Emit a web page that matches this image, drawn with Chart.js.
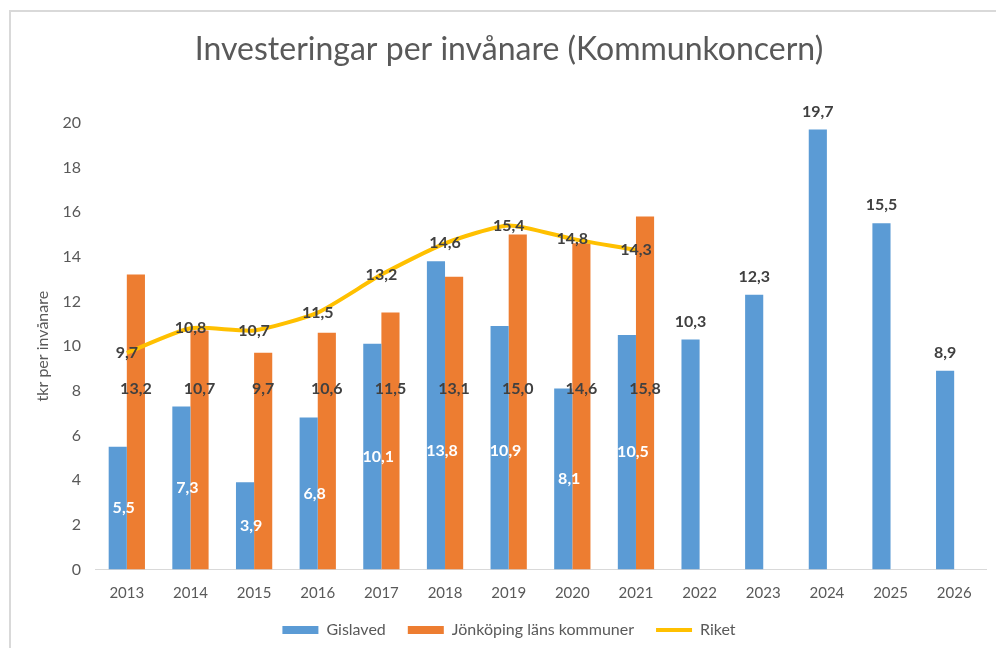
<!DOCTYPE html>
<html lang="sv">
<head>
<meta charset="utf-8">
<title>Investeringar per invånare</title>
<script src="https://cdn.jsdelivr.net/npm/chart.js@4/dist/chart.umd.min.js"></script>
<style>
  html, body { margin: 0; padding: 0; background: #fff; overflow: hidden; }
  #ram {
    position: absolute; left: 9px; top: 10px;
    width: 1100px; height: 800px;
    border-left: 2px solid #d9d9d9; border-top: 2px solid #d9d9d9;
  }
  #wrap { position: absolute; left: 0; top: 0; width: 996px; height: 648px; }
</style>
</head>
<body>
<div id="ram"></div>
<div id="wrap"><canvas id="chart-investeringar"></canvas></div>
<script>
// ============================================================
// DATA
// ============================================================

const ar = ['2013', '2014', '2015', '2016', '2017', '2018', '2019',
            '2020', '2021', '2022', '2023', '2024', '2025', '2026'];

const gislaved = [5.5, 7.3, 3.9, 6.8, 10.1, 13.8, 10.9, 8.1, 10.5, 10.3, 12.3, 19.7, 15.5, 8.9];
const jonkoping = [13.2, 10.7, 9.7, 10.6, 11.5, 13.1, 15.0, 14.6, 15.8, null, null, null, null, null];
const riket = [9.7, 10.8, 10.7, 11.5, 13.2, 14.6, 15.4, 14.8, 14.3, null, null, null, null, null];

const yTicks = [0, 2, 4, 6, 8, 10, 12, 14, 16, 18, 20];

const FONT = "'Lato', 'Open Sans', sans-serif";
const GRA = '#595959';
const MORK = '#404040';

// ============================================================
// ETIKETTER (egen plugin, ingen datalabels finns lokalt)
// ============================================================

/**
 * Skriver värdena med decimalkomma på staplar och linje.
 */
const etiketter = {
  id: 'etiketter',
  afterDatasetsDraw(chart) {
    const ctx = chart.ctx;
    const y = chart.scales.y;
    ctx.save();
    ctx.font = 'bold 16px ' + FONT;
    ctx.textAlign = 'center';
    ctx.textBaseline = 'middle';

    chart.data.datasets.forEach((ds, i) => {
      const meta = chart.getDatasetMeta(i);
      meta.data.forEach((el, j) => {
        const v = ds.data[j];
        if (v == null) return;
        const txt = v.toFixed(1).replace('.', ',');
        let px = el.x;
        let py;
        if (ds.label === 'Gislaved') {
          if (jonkoping[j] != null) {
            // inne i stapeln, lite åt höger som i Excel
            ctx.fillStyle = '#ffffff';
            px = el.x + 6;
            py = y.getPixelForValue(Math.min(v / 2, 5.3));
          } else {
            // ovanför stapeln
            ctx.fillStyle = MORK;
            py = el.y - 18;
          }
        } else if (ds.label === 'Jönköping läns kommuner') {
          ctx.fillStyle = MORK;
          py = y.getPixelForValue(8.1);
        } else {
          ctx.fillStyle = MORK;
          py = el.y;
        }
        ctx.fillText(txt, px, py);
      });
    });
    ctx.restore();
  }
};

// ============================================================
// DIAGRAM
// ============================================================

new Chart(document.getElementById('chart-investeringar'), {
  type: 'bar',
  data: {
    labels: ar,
    datasets: [
      {
        label: 'Gislaved',
        data: gislaved,
        backgroundColor: '#5B9BD5',
        borderWidth: 0,
        pointStyle: 'rect',
        order: 1
      },
      {
        label: 'Jönköping läns kommuner',
        data: jonkoping,
        backgroundColor: '#ED7D31',
        borderWidth: 0,
        pointStyle: 'rect',
        order: 1
      },
      {
        type: 'line',
        label: 'Riket',
        data: riket,
        borderColor: '#FFC000',
        backgroundColor: '#FFC000',
        borderWidth: 4,
        pointRadius: 0,
        pointStyle: 'line',
        tension: 0.2,
        spanGaps: false,
        order: 0
      }
    ]
  },
  options: {
    responsive: true,
    maintainAspectRatio: false,
    animation: false,
    layout: { padding: { left: 32, right: 10, top: 0, bottom: 0 } },
    datasets: {
      bar: { categoryPercentage: 0.57, barPercentage: 1.0 }
    },
    plugins: {
      title: {
        display: true,
        text: 'Investeringar per invånare (Kommunkoncern)',
        color: GRA,
        font: { family: FONT, size: 32, weight: 'normal' },
        padding: { top: 30, bottom: 54.3 }
      },
      legend: {
        position: 'bottom',
        labels: {
          color: GRA,
          font: { family: FONT, size: 16 },
          usePointStyle: true,
          pointStyleWidth: 36,
          boxHeight: 8,
          padding: 22,
          sort: (a, b) => a.datasetIndex - b.datasetIndex
        }
      },
      tooltip: { enabled: false }
    },
    scales: {
      x: {
        grid: { display: false, drawTicks: false },
        border: { display: true, color: '#d9d9d9', width: 1 },
        ticks: { color: GRA, font: { family: FONT, size: 15 }, padding: 15 },
        afterFit: (s) => { s.height = 30.5; }
      },
      y: {
        min: 0,
        max: 20,
        afterBuildTicks: (s) => { s.ticks = yTicks.map(v => ({ value: v })); },
        grid: { display: false, drawTicks: false },
        border: { display: false },
        ticks: { color: GRA, font: { family: FONT, size: 16 }, padding: 14 },
        title: {
          display: true,
          text: 'tkr per invånare',
          color: GRA,
          font: { family: FONT, size: 16 },
          padding: { top: 1.4, bottom: 0 }
        },
        afterFit: (s) => { s.width = 63; }
      }
    }
  },
  plugins: [etiketter]
});
</script>
</body>
</html>
